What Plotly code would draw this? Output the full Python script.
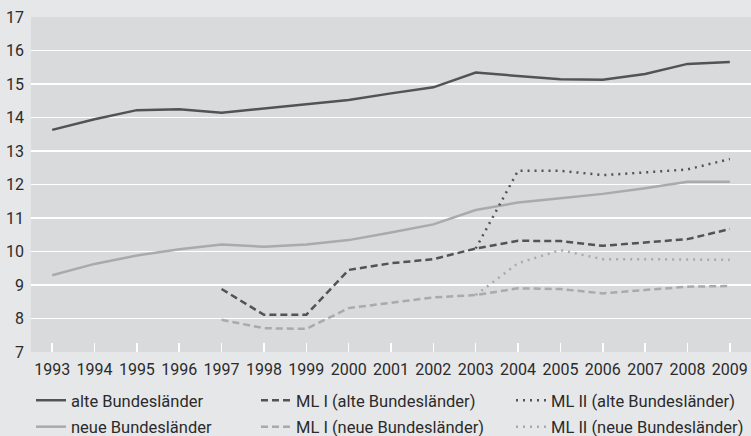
import plotly.graph_objects as go

years = list(range(1993, 2010))
alte = [13.63, 13.95, 14.22, 14.25, 14.14, 14.27, 14.40, 14.52, 14.72, 14.90, 15.34, 15.24, 15.14, 15.13, 15.30, 15.60, 15.66]
neue = [9.29, 9.63, 9.88, 10.07, 10.21, 10.14, 10.21, 10.34, 10.57, 10.81, 11.24, 11.46, 11.59, 11.72, 11.89, 12.08, 12.08]
ml1_years = list(range(1997, 2010))
ml1_alte = [8.88, 8.11, 8.11, 9.45, 9.65, 9.77, 10.09, 10.32, 10.31, 10.17, 10.27, 10.37, 10.67]
ml1_neue = [7.96, 7.71, 7.69, 8.31, 8.47, 8.63, 8.70, 8.90, 8.88, 8.75, 8.85, 8.95, 8.97]
ml2_years = list(range(2003, 2010))
ml2_alte = [10.09, 12.41, 12.41, 12.28, 12.36, 12.45, 12.76]
ml2_neue = [8.70, 9.65, 10.04, 9.77, 9.77, 9.77, 9.75]
y_ticks = list(range(7, 18))
grid_vals = list(range(8, 17))

DARK = "#535355"
LIGHT = "#a9aaac"
FONT = "Roboto"

fig = go.Figure()

def add(name, x, y, color, dash, legend, group):
    fig.add_trace(go.Scatter(
        x=x, y=y, name=name, mode="lines",
        line=dict(color=color, width=2.5, dash=dash),
        legend=legend, legendgroup=group, hoverinfo="skip",
    ))

add("alte Bundesländer", years, alte, DARK, "solid", "legend", "a")
add("neue Bundesländer", years, neue, LIGHT, "solid", "legend", "b")
add("ML I (alte Bundesländer)", ml1_years, ml1_alte, DARK, "7px,4px", "legend2", "c")
add("ML I (neue Bundesländer)", ml1_years, ml1_neue, LIGHT, "7px,4px", "legend2", "d")
add("ML II (alte Bundesländer)", ml2_years, ml2_alte, DARK, "2px,5px", "legend3", "e")
add("ML II (neue Bundesländer)", ml2_years, ml2_neue, LIGHT, "2px,5px", "legend3", "f")

W, H = 751, 436
legend_common = dict(
    orientation="v", xref="container", yref="container",
    xanchor="left", yanchor="top", y=1 - 383 / H,
    bgcolor="rgba(0,0,0,0)", borderwidth=0,
    font=dict(family=FONT, size=16.5, color="#2b2b2b"),
    traceorder="grouped", tracegroupgap=2, itemclick=False,
)

fig.update_layout(
    width=W, height=H,
    paper_bgcolor="#e6e7e9",
    plot_bgcolor="#d9dadc",
    margin=dict(l=31, r=0, t=17, b=84, autoexpand=False),
    showlegend=True,
    legend=dict(legend_common, x=31 / W),
    legend2=dict(legend_common, x=256 / W),
    legend3=dict(legend_common, x=511 / W),
    font=dict(family=FONT, size=16, color="#2b2b2b"),
    xaxis=dict(
        range=[1992.5, 2009.5], tickmode="array", tickvals=years,
        ticktext=[str(y) for y in years],
        showgrid=False, zeroline=False, showline=False,
        ticks="inside", ticklen=9, tickwidth=1.5, tickcolor="white",
        ticklabelstandoff=6,
        tickfont=dict(family=FONT, size=16, color="#2b2b2b"),
    ),
    yaxis=dict(
        range=[7, 17], tickmode="array", tickvals=y_ticks,
        showgrid=False, zeroline=False, showline=False, ticks="",
        ticklabelstandoff=6,
        tickfont=dict(family=FONT, size=16, color="#2b2b2b"),
    ),
    yaxis2=dict(
        overlaying="y", range=[7, 17], tickmode="array", tickvals=grid_vals,
        showgrid=True, gridcolor="white", gridwidth=1.5,
        zeroline=False, showline=False, ticks="", showticklabels=False,
    ),
)
# invisible helper so the grid-only axis is drawn
fig.add_trace(go.Scatter(x=[years[0]], y=[y_ticks[0]], yaxis="y2", mode="lines",
                         showlegend=False, hoverinfo="skip", line=dict(width=0)))

fig.write_html(
    "out.html",
    config={"displayModeBar": False, "staticPlot": True},
    post_script="document.body.style.margin='0px';document.body.style.overflow='hidden';",
)
